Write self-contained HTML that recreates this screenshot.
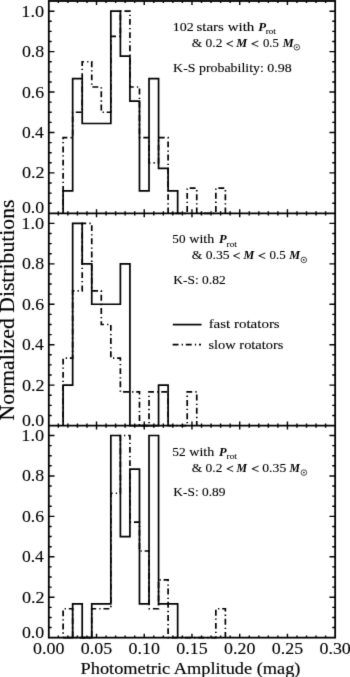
<!DOCTYPE html>
<html><head><meta charset="utf-8"><style>
html,body{margin:0;padding:0;background:#fff;}
svg{display:block;}
#w{width:350px;height:677px;filter:grayscale(1);}
text{font-family:"Liberation Serif",serif;fill:#000;stroke:#000;}
.a{stroke-width:0.1px;}
.tl{stroke-width:0.1px;}
.ti{stroke-width:0.15px;}
.b{stroke-width:0px;}
.lt{stroke-width:0.3px;}
</style></head><body><div id="w">
<svg width="350" height="677" viewBox="0 0 350 677">
<defs><filter id="bl" filterUnits="userSpaceOnUse" x="0" y="0" width="350" height="677" color-interpolation-filters="sRGB"><feConvolveMatrix order="3" kernelMatrix="0.0100 0.0800 0.0100 0.0800 0.6400 0.0800 0.0100 0.0800 0.0100" edgeMode="duplicate" preserveAlpha="true"/></filter></defs>
<g filter="url(#bl)">
<rect x="0" y="0" width="350" height="677" fill="#fff"/>
<rect x="48.80" y="1.00" width="286.35" height="636.65" fill="none" stroke="#000" stroke-width="1.8"/>
<line x1="48.80" y1="213.35" x2="335.15" y2="213.35" stroke="#000" stroke-width="1.8"/>
<line x1="48.80" y1="425.55" x2="335.15" y2="425.55" stroke="#000" stroke-width="1.8"/>
<path d="M48.80,203.24h2.9 M335.15,203.24h-2.9 M48.80,193.13h2.9 M335.15,193.13h-2.9 M48.80,183.03h2.9 M335.15,183.03h-2.9 M48.80,172.92h5.7 M335.15,172.92h-5.7 M48.80,162.81h2.9 M335.15,162.81h-2.9 M48.80,152.70h2.9 M335.15,152.70h-2.9 M48.80,142.60h2.9 M335.15,142.60h-2.9 M48.80,132.49h5.7 M335.15,132.49h-5.7 M48.80,122.38h2.9 M335.15,122.38h-2.9 M48.80,112.27h2.9 M335.15,112.27h-2.9 M48.80,102.17h2.9 M335.15,102.17h-2.9 M48.80,92.06h5.7 M335.15,92.06h-5.7 M48.80,81.95h2.9 M335.15,81.95h-2.9 M48.80,71.84h2.9 M335.15,71.84h-2.9 M48.80,61.74h2.9 M335.15,61.74h-2.9 M48.80,51.63h5.7 M335.15,51.63h-5.7 M48.80,41.52h2.9 M335.15,41.52h-2.9 M48.80,31.41h2.9 M335.15,31.41h-2.9 M48.80,21.31h2.9 M335.15,21.31h-2.9 M48.80,11.20h5.7 M335.15,11.20h-5.7 M58.34,213.35v-2.1 M58.34,1.00v2.1 M67.89,213.35v-2.1 M67.89,1.00v2.1 M77.44,213.35v-2.1 M77.44,1.00v2.1 M86.98,213.35v-2.1 M86.98,1.00v2.1 M96.53,213.35v-4.0 M96.53,1.00v4.0 M106.07,213.35v-2.1 M106.07,1.00v2.1 M115.62,213.35v-2.1 M115.62,1.00v2.1 M125.16,213.35v-2.1 M125.16,1.00v2.1 M134.70,213.35v-2.1 M134.70,1.00v2.1 M144.25,213.35v-4.0 M144.25,1.00v4.0 M153.80,213.35v-2.1 M153.80,1.00v2.1 M163.34,213.35v-2.1 M163.34,1.00v2.1 M172.88,213.35v-2.1 M172.88,1.00v2.1 M182.43,213.35v-2.1 M182.43,1.00v2.1 M191.97,213.35v-4.0 M191.97,1.00v4.0 M201.52,213.35v-2.1 M201.52,1.00v2.1 M211.06,213.35v-2.1 M211.06,1.00v2.1 M220.61,213.35v-2.1 M220.61,1.00v2.1 M230.15,213.35v-2.1 M230.15,1.00v2.1 M239.70,213.35v-4.0 M239.70,1.00v4.0 M249.25,213.35v-2.1 M249.25,1.00v2.1 M258.79,213.35v-2.1 M258.79,1.00v2.1 M268.33,213.35v-2.1 M268.33,1.00v2.1 M277.88,213.35v-2.1 M277.88,1.00v2.1 M287.43,213.35v-4.0 M287.43,1.00v4.0 M296.97,213.35v-2.1 M296.97,1.00v2.1 M306.52,213.35v-2.1 M306.52,1.00v2.1 M316.06,213.35v-2.1 M316.06,1.00v2.1 M325.61,213.35v-2.1 M325.61,1.00v2.1 M48.80,415.44h2.9 M335.15,415.44h-2.9 M48.80,405.34h2.9 M335.15,405.34h-2.9 M48.80,395.23h2.9 M335.15,395.23h-2.9 M48.80,385.12h5.7 M335.15,385.12h-5.7 M48.80,375.01h2.9 M335.15,375.01h-2.9 M48.80,364.90h2.9 M335.15,364.90h-2.9 M48.80,354.80h2.9 M335.15,354.80h-2.9 M48.80,344.69h5.7 M335.15,344.69h-5.7 M48.80,334.58h2.9 M335.15,334.58h-2.9 M48.80,324.48h2.9 M335.15,324.48h-2.9 M48.80,314.37h2.9 M335.15,314.37h-2.9 M48.80,304.26h5.7 M335.15,304.26h-5.7 M48.80,294.15h2.9 M335.15,294.15h-2.9 M48.80,284.04h2.9 M335.15,284.04h-2.9 M48.80,273.94h2.9 M335.15,273.94h-2.9 M48.80,263.83h5.7 M335.15,263.83h-5.7 M48.80,253.72h2.9 M335.15,253.72h-2.9 M48.80,243.62h2.9 M335.15,243.62h-2.9 M48.80,233.51h2.9 M335.15,233.51h-2.9 M48.80,223.40h5.7 M335.15,223.40h-5.7 M58.34,425.55v-2.1 M58.34,213.35v2.1 M67.89,425.55v-2.1 M67.89,213.35v2.1 M77.44,425.55v-2.1 M77.44,213.35v2.1 M86.98,425.55v-2.1 M86.98,213.35v2.1 M96.53,425.55v-4.0 M96.53,213.35v4.0 M106.07,425.55v-2.1 M106.07,213.35v2.1 M115.62,425.55v-2.1 M115.62,213.35v2.1 M125.16,425.55v-2.1 M125.16,213.35v2.1 M134.70,425.55v-2.1 M134.70,213.35v2.1 M144.25,425.55v-4.0 M144.25,213.35v4.0 M153.80,425.55v-2.1 M153.80,213.35v2.1 M163.34,425.55v-2.1 M163.34,213.35v2.1 M172.88,425.55v-2.1 M172.88,213.35v2.1 M182.43,425.55v-2.1 M182.43,213.35v2.1 M191.97,425.55v-4.0 M191.97,213.35v4.0 M201.52,425.55v-2.1 M201.52,213.35v2.1 M211.06,425.55v-2.1 M211.06,213.35v2.1 M220.61,425.55v-2.1 M220.61,213.35v2.1 M230.15,425.55v-2.1 M230.15,213.35v2.1 M239.70,425.55v-4.0 M239.70,213.35v4.0 M249.25,425.55v-2.1 M249.25,213.35v2.1 M258.79,425.55v-2.1 M258.79,213.35v2.1 M268.33,425.55v-2.1 M268.33,213.35v2.1 M277.88,425.55v-2.1 M277.88,213.35v2.1 M287.43,425.55v-4.0 M287.43,213.35v4.0 M296.97,425.55v-2.1 M296.97,213.35v2.1 M306.52,425.55v-2.1 M306.52,213.35v2.1 M316.06,425.55v-2.1 M316.06,213.35v2.1 M325.61,425.55v-2.1 M325.61,213.35v2.1 M48.80,627.54h2.9 M335.15,627.54h-2.9 M48.80,617.43h2.9 M335.15,617.43h-2.9 M48.80,607.33h2.9 M335.15,607.33h-2.9 M48.80,597.22h5.7 M335.15,597.22h-5.7 M48.80,587.11h2.9 M335.15,587.11h-2.9 M48.80,577.00h2.9 M335.15,577.00h-2.9 M48.80,566.90h2.9 M335.15,566.90h-2.9 M48.80,556.79h5.7 M335.15,556.79h-5.7 M48.80,546.68h2.9 M335.15,546.68h-2.9 M48.80,536.57h2.9 M335.15,536.57h-2.9 M48.80,526.47h2.9 M335.15,526.47h-2.9 M48.80,516.36h5.7 M335.15,516.36h-5.7 M48.80,506.25h2.9 M335.15,506.25h-2.9 M48.80,496.14h2.9 M335.15,496.14h-2.9 M48.80,486.04h2.9 M335.15,486.04h-2.9 M48.80,475.93h5.7 M335.15,475.93h-5.7 M48.80,465.82h2.9 M335.15,465.82h-2.9 M48.80,455.71h2.9 M335.15,455.71h-2.9 M48.80,445.61h2.9 M335.15,445.61h-2.9 M48.80,435.50h5.7 M335.15,435.50h-5.7 M58.34,637.65v-2.1 M58.34,425.55v2.1 M67.89,637.65v-2.1 M67.89,425.55v2.1 M77.44,637.65v-2.1 M77.44,425.55v2.1 M86.98,637.65v-2.1 M86.98,425.55v2.1 M96.53,637.65v-4.0 M96.53,425.55v4.0 M106.07,637.65v-2.1 M106.07,425.55v2.1 M115.62,637.65v-2.1 M115.62,425.55v2.1 M125.16,637.65v-2.1 M125.16,425.55v2.1 M134.70,637.65v-2.1 M134.70,425.55v2.1 M144.25,637.65v-4.0 M144.25,425.55v4.0 M153.80,637.65v-2.1 M153.80,425.55v2.1 M163.34,637.65v-2.1 M163.34,425.55v2.1 M172.88,637.65v-2.1 M172.88,425.55v2.1 M182.43,637.65v-2.1 M182.43,425.55v2.1 M191.97,637.65v-4.0 M191.97,425.55v4.0 M201.52,637.65v-2.1 M201.52,425.55v2.1 M211.06,637.65v-2.1 M211.06,425.55v2.1 M220.61,637.65v-2.1 M220.61,425.55v2.1 M230.15,637.65v-2.1 M230.15,425.55v2.1 M239.70,637.65v-4.0 M239.70,425.55v4.0 M249.25,637.65v-2.1 M249.25,425.55v2.1 M258.79,637.65v-2.1 M258.79,425.55v2.1 M268.33,637.65v-2.1 M268.33,425.55v2.1 M277.88,637.65v-2.1 M277.88,425.55v2.1 M287.43,637.65v-4.0 M287.43,425.55v4.0 M296.97,637.65v-2.1 M296.97,425.55v2.1 M306.52,637.65v-2.1 M306.52,425.55v2.1 M316.06,637.65v-2.1 M316.06,425.55v2.1 M325.61,637.65v-2.1 M325.61,425.55v2.1" stroke="#000" stroke-width="1.4" fill="none"/>
<path d="M63.12,213.35 L63.12,190.89 L72.66,190.89 L72.66,78.58 L82.21,78.58 L82.21,123.51 L110.84,123.51 L110.84,11.20 L120.39,11.20 L120.39,56.12 L129.93,56.12 L129.93,101.04 L139.48,101.04 L139.48,190.89 L149.02,190.89 L149.02,78.58 L158.57,78.58 L158.57,168.43 L168.11,168.43 L168.11,190.89 L177.66,190.89 L177.66,213.35" stroke="#000" stroke-width="1.7" fill="none"/>
<path d="M63.12,213.35 L63.12,137.54 L72.66,137.54 L72.66,112.27 L82.21,112.27 L82.21,61.74 L91.75,61.74 L91.75,87.01 L101.30,87.01 L101.30,112.27 L110.84,112.27 L110.84,36.47 L120.39,36.47 L120.39,11.20 L129.93,11.20 L129.93,87.01 L139.48,87.01 L139.48,137.54 L149.02,137.54 L149.02,162.81 L158.57,162.81 L158.57,137.54 L168.11,137.54 L168.11,213.35 L187.20,213.35 L187.20,188.08 L196.75,188.08 L196.75,213.35 L215.84,213.35 L215.84,188.08 L225.38,188.08 L225.38,213.35" stroke="#000" stroke-width="1.7" fill="none" stroke-dasharray="5.9 3.15 1.3 2.85" stroke-dashoffset="5.05"/>
<path d="M63.12,425.55 L63.12,385.12 L72.66,385.12 L72.66,223.40 L82.21,223.40 L82.21,263.83 L91.75,263.83 L91.75,304.26 L120.39,304.26 L120.39,263.83 L129.93,263.83 L129.93,425.55 L158.57,425.55 L158.57,385.12 L168.11,385.12 L168.11,425.55" stroke="#000" stroke-width="1.7" fill="none"/>
<path d="M63.12,425.55 L63.12,358.17 L72.66,358.17 L72.66,290.78 L82.21,290.78 L82.21,223.40 L91.75,223.40 L91.75,290.78 L101.30,290.78 L101.30,324.48 L110.84,324.48 L110.84,358.17 L120.39,358.17 L120.39,391.86 L139.48,391.86 L139.48,425.55 L149.02,425.55 L149.02,391.86 L168.11,391.86 L168.11,425.55 L187.20,425.55 L187.20,391.86 L196.75,391.86 L196.75,425.55" stroke="#000" stroke-width="1.7" fill="none" stroke-dasharray="5.9 3.15 1.3 2.85" stroke-dashoffset="5.05"/>
<path d="M63.12,637.65 L72.66,637.65 L72.66,603.96 L82.21,603.96 L82.21,637.65 L91.75,637.65 L91.75,603.96 L110.84,603.96 L110.84,435.50 L120.39,435.50 L120.39,536.57 L129.93,536.57 L129.93,469.19 L139.48,469.19 L139.48,603.96 L149.02,603.96 L149.02,435.50 L158.57,435.50 L158.57,603.96 L177.66,603.96 L177.66,637.65" stroke="#000" stroke-width="1.7" fill="none"/>
<path d="M63.12,637.65 L63.12,608.77 L72.66,608.77 L72.66,637.65 L91.75,637.65 L91.75,608.77 L110.84,608.77 L110.84,493.26 L120.39,493.26 L120.39,435.50 L129.93,435.50 L129.93,522.14 L139.48,522.14 L139.48,551.01 L149.02,551.01 L149.02,608.77 L158.57,608.77 L158.57,579.89 L168.11,579.89 L168.11,637.65 L215.84,637.65 L215.84,608.77 L225.38,608.77 L225.38,637.65" stroke="#000" stroke-width="1.7" fill="none" stroke-dasharray="5.9 3.15 1.3 2.85" stroke-dashoffset="5.05"/>
<text class="tl" x="21.92" y="213.40" font-size="16.5" textLength="22.36" lengthAdjust="spacingAndGlyphs">0.0</text>
<text class="tl" x="21.91" y="178.47" font-size="16.5" textLength="22.71" lengthAdjust="spacingAndGlyphs">0.2</text>
<text class="tl" x="21.93" y="138.04" font-size="16.5" textLength="21.95" lengthAdjust="spacingAndGlyphs">0.4</text>
<text class="tl" x="21.92" y="97.61" font-size="16.5" textLength="22.21" lengthAdjust="spacingAndGlyphs">0.6</text>
<text class="tl" x="21.92" y="57.18" font-size="16.5" textLength="22.36" lengthAdjust="spacingAndGlyphs">0.8</text>
<text class="tl" x="21.39" y="16.75" font-size="16.5" textLength="22.91" lengthAdjust="spacingAndGlyphs">1.0</text>
<text class="tl" x="21.92" y="425.60" font-size="16.5" textLength="22.36" lengthAdjust="spacingAndGlyphs">0.0</text>
<text class="tl" x="21.91" y="390.67" font-size="16.5" textLength="22.71" lengthAdjust="spacingAndGlyphs">0.2</text>
<text class="tl" x="21.93" y="350.24" font-size="16.5" textLength="21.95" lengthAdjust="spacingAndGlyphs">0.4</text>
<text class="tl" x="21.92" y="309.81" font-size="16.5" textLength="22.21" lengthAdjust="spacingAndGlyphs">0.6</text>
<text class="tl" x="21.92" y="269.38" font-size="16.5" textLength="22.36" lengthAdjust="spacingAndGlyphs">0.8</text>
<text class="tl" x="21.39" y="228.95" font-size="16.5" textLength="22.91" lengthAdjust="spacingAndGlyphs">1.0</text>
<text class="tl" x="21.92" y="637.70" font-size="16.5" textLength="22.36" lengthAdjust="spacingAndGlyphs">0.0</text>
<text class="tl" x="21.91" y="602.77" font-size="16.5" textLength="22.71" lengthAdjust="spacingAndGlyphs">0.2</text>
<text class="tl" x="21.93" y="562.34" font-size="16.5" textLength="21.95" lengthAdjust="spacingAndGlyphs">0.4</text>
<text class="tl" x="21.92" y="521.91" font-size="16.5" textLength="22.21" lengthAdjust="spacingAndGlyphs">0.6</text>
<text class="tl" x="21.92" y="481.48" font-size="16.5" textLength="22.36" lengthAdjust="spacingAndGlyphs">0.8</text>
<text class="tl" x="21.39" y="441.05" font-size="16.5" textLength="22.91" lengthAdjust="spacingAndGlyphs">1.0</text>
<text class="tl" x="33.12" y="653.50" font-size="16.0" textLength="31.36" lengthAdjust="spacingAndGlyphs">0.00</text>
<text class="tl" x="80.84" y="653.50" font-size="16.0" textLength="31.40" lengthAdjust="spacingAndGlyphs">0.05</text>
<text class="tl" x="128.57" y="653.50" font-size="16.0" textLength="31.36" lengthAdjust="spacingAndGlyphs">0.10</text>
<text class="tl" x="176.29" y="653.50" font-size="16.0" textLength="31.40" lengthAdjust="spacingAndGlyphs">0.15</text>
<text class="tl" x="224.02" y="653.50" font-size="16.0" textLength="31.36" lengthAdjust="spacingAndGlyphs">0.20</text>
<text class="tl" x="271.74" y="653.50" font-size="16.0" textLength="31.40" lengthAdjust="spacingAndGlyphs">0.25</text>
<text class="tl" x="319.47" y="653.50" font-size="16.0" textLength="31.36" lengthAdjust="spacingAndGlyphs">0.30</text>
<text class="ti" x="80.59" y="673.70" font-size="16.4" textLength="219.88" lengthAdjust="spacingAndGlyphs">Photometric Amplitude (mag)</text>
<text class="ti" transform="translate(14.3,419.9) rotate(-90)" x="-0.61" y="0" font-size="20.5" textLength="220.96" lengthAdjust="spacingAndGlyphs">Normalized Distributions</text>
<text class="a" x="172.67" y="31.00" font-size="12.6" textLength="21.02" lengthAdjust="spacingAndGlyphs">102</text>
<text class="a" x="196.47" y="31.00" font-size="12.6" textLength="57.85" lengthAdjust="spacingAndGlyphs">stars with</text>
<text class="b" x="258.20" y="31.00" font-size="12.2" textLength="7.81" lengthAdjust="spacingAndGlyphs" font-weight="bold" font-style="italic">P</text>
<text class="a" x="265.72" y="34.10" font-size="8.6" textLength="10.13" lengthAdjust="spacingAndGlyphs">rot</text>
<text class="a" x="172.34" y="243.30" font-size="12.6" textLength="13.16" lengthAdjust="spacingAndGlyphs">50</text>
<text class="a" x="189.30" y="243.30" font-size="12.6" textLength="24.89" lengthAdjust="spacingAndGlyphs">with</text>
<text class="b" x="219.00" y="243.30" font-size="12.2" textLength="7.61" lengthAdjust="spacingAndGlyphs" font-weight="bold" font-style="italic">P</text>
<text class="a" x="226.62" y="246.50" font-size="8.6" textLength="10.23" lengthAdjust="spacingAndGlyphs">rot</text>
<text class="a" x="172.32" y="455.60" font-size="12.6" textLength="13.43" lengthAdjust="spacingAndGlyphs">52</text>
<text class="a" x="189.30" y="455.60" font-size="12.6" textLength="24.89" lengthAdjust="spacingAndGlyphs">with</text>
<text class="b" x="219.00" y="455.60" font-size="12.2" textLength="7.61" lengthAdjust="spacingAndGlyphs" font-weight="bold" font-style="italic">P</text>
<text class="a" x="226.62" y="458.80" font-size="8.6" textLength="10.23" lengthAdjust="spacingAndGlyphs">rot</text>
<text class="a" x="191.79" y="47.00" font-size="12.6" textLength="30.66" lengthAdjust="spacingAndGlyphs">&amp; 0.2</text>
<text class="lt" x="225.93" y="48.15" font-size="12.55" textLength="7.50" lengthAdjust="spacingAndGlyphs">&lt;</text>
<text class="b" x="236.17" y="47.00" font-size="11.9" textLength="10.90" lengthAdjust="spacingAndGlyphs" font-weight="bold" font-style="italic">M</text>
<text class="lt" x="251.01" y="48.15" font-size="12.55" textLength="7.75" lengthAdjust="spacingAndGlyphs">&lt;</text>
<text class="a" x="262.91" y="47.00" font-size="12.6" textLength="16.00" lengthAdjust="spacingAndGlyphs">0.5</text>
<text class="b" x="282.67" y="47.00" font-size="11.9" textLength="10.90" lengthAdjust="spacingAndGlyphs" font-weight="bold" font-style="italic">M</text>
<circle cx="296.8" cy="47.3" r="2.8" fill="none" stroke="#000" stroke-width="0.7"/><circle cx="296.8" cy="47.3" r="0.8" fill="#000"/>
<text class="a" x="191.78" y="259.10" font-size="12.6" textLength="37.86" lengthAdjust="spacingAndGlyphs">&amp; 0.35</text>
<text class="lt" x="232.83" y="260.25" font-size="12.55" textLength="7.50" lengthAdjust="spacingAndGlyphs">&lt;</text>
<text class="b" x="243.47" y="259.10" font-size="11.9" textLength="10.80" lengthAdjust="spacingAndGlyphs" font-weight="bold" font-style="italic">M</text>
<text class="lt" x="258.01" y="260.25" font-size="12.55" textLength="7.75" lengthAdjust="spacingAndGlyphs">&lt;</text>
<text class="a" x="269.61" y="259.10" font-size="12.6" textLength="16.21" lengthAdjust="spacingAndGlyphs">0.5</text>
<text class="b" x="289.17" y="259.10" font-size="11.9" textLength="10.90" lengthAdjust="spacingAndGlyphs" font-weight="bold" font-style="italic">M</text>
<circle cx="303.8" cy="259.9" r="2.8" fill="none" stroke="#000" stroke-width="0.7"/><circle cx="303.8" cy="259.9" r="0.8" fill="#000"/>
<text class="a" x="191.79" y="471.60" font-size="12.6" textLength="30.66" lengthAdjust="spacingAndGlyphs">&amp; 0.2</text>
<text class="lt" x="226.35" y="472.75" font-size="12.55" textLength="7.38" lengthAdjust="spacingAndGlyphs">&lt;</text>
<text class="b" x="236.47" y="471.60" font-size="11.9" textLength="10.52" lengthAdjust="spacingAndGlyphs" font-weight="bold" font-style="italic">M</text>
<text class="lt" x="251.21" y="472.75" font-size="12.55" textLength="7.75" lengthAdjust="spacingAndGlyphs">&lt;</text>
<text class="a" x="262.28" y="471.60" font-size="12.6" textLength="23.97" lengthAdjust="spacingAndGlyphs">0.35</text>
<text class="b" x="289.56" y="471.60" font-size="11.9" textLength="10.42" lengthAdjust="spacingAndGlyphs" font-weight="bold" font-style="italic">M</text>
<circle cx="303.9" cy="472.6" r="2.8" fill="none" stroke="#000" stroke-width="0.7"/><circle cx="303.9" cy="472.6" r="0.8" fill="#000"/>
<text class="a" x="173.11" y="71.70" font-size="12.6" textLength="118.51" lengthAdjust="spacingAndGlyphs">K-S probability: 0.98</text>
<text class="a" x="173.32" y="283.90" font-size="12.6" textLength="52.32" lengthAdjust="spacingAndGlyphs">K-S: 0.82</text>
<text class="a" x="173.32" y="495.90" font-size="12.6" textLength="52.13" lengthAdjust="spacingAndGlyphs">K-S: 0.89</text>
<line x1="172.8" y1="324.6" x2="201.6" y2="324.6" stroke="#000" stroke-width="1.7"/>
<line x1="172.6" y1="344.6" x2="201" y2="344.6" stroke="#000" stroke-width="1.7" stroke-dasharray="5.9 3.15 1.3 2.85"/>
<text class="a" x="208.65" y="328.20" font-size="12.6" textLength="71.07" lengthAdjust="spacingAndGlyphs">fast rotators</text>
<text class="a" x="208.49" y="348.50" font-size="12.6" textLength="74.92" lengthAdjust="spacingAndGlyphs">slow rotators</text>
</g>
</svg>
</div></body></html>
